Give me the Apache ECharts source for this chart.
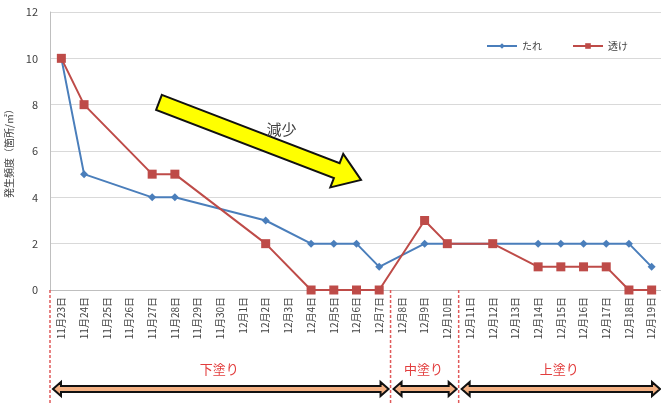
<!DOCTYPE html>
<html>
<head>
<meta charset="utf-8">
<script src="https://cdn.jsdelivr.net/npm/echarts@6/dist/echarts.min.js"></script>
<style>
  html, body { margin: 0; padding: 0; background: #fff; }
  #chart { width: 661px; height: 403px; }
</style>
</head>
<body>
<div id="chart"></div>
<script>
var days = ['11月23日','11月24日','11月25日','11月26日','11月27日','11月28日','11月29日','11月30日',
  '12月1日','12月2日','12月3日','12月4日','12月5日','12月6日','12月7日','12月8日','12月9日','12月10日',
  '12月11日','12月12日','12月13日','12月14日','12月15日','12月16日','12月17日','12月18日','12月19日'];
var tare = [10,5,null,null,4,4,null,null,null,3,null,2,2,2,1,null,2,2,null,2,null,2,2,2,2,2,1];
var suke = [10,8,null,null,5,5,null,null,null,2,null,0,0,0,0,null,3,2,null,2,null,1,1,1,1,0,0];
// phase name, first day index, last day index
var phases = [['下塗り',0,14],['中塗り',15,17],['上塗り',18,26]];

var chart = echarts.init(document.getElementById('chart'));
var font = 'Noto Sans CJK JP';

chart.setOption({
  animation: false,
  textStyle: { fontFamily: font },
  grid: { left: 50, top: 12, width: 613, height: 278, outerBoundsMode: 'none', containLabel: false },
  legend: {
    right: 28, top: 36, itemGap: 30, itemWidth: 30, itemHeight: 7,
    textStyle: { fontSize: 10, color: '#404040' },
    data: ['たれ','透け']
  },
  xAxis: {
    type: 'category',
    data: days,
    axisLine: { lineStyle: { color: '#bfbfbf' } },
    axisTick: { length: 4, lineStyle: { color: '#bfbfbf' } },
    axisLabel: { interval: 0, rotate: 90, fontSize: 10, color: '#404040', margin: 7 }
  },
  yAxis: {
    type: 'value', min: 0, max: 12, interval: 2,
    name: '発生頻度（箇所/㎡）', nameLocation: 'middle', nameRotate: 90, nameGap: 36,
    nameTextStyle: { fontSize: 10, color: '#404040' },
    axisLine: { show: true, lineStyle: { color: '#bfbfbf' } },
    axisTick: { show: false },
    axisLabel: { fontSize: 11, color: '#404040', margin: 12 },
    splitLine: { lineStyle: { color: '#d9d9d9' } }
  },
  series: [
    {
      name: 'たれ', type: 'line', data: tare, connectNulls: true,
      symbol: 'diamond', symbolSize: 8,
      itemStyle: { color: '#4a7ebb' }, lineStyle: { color: '#4a7ebb', width: 2 }
    },
    {
      name: '透け', type: 'line', data: suke, connectNulls: true,
      symbol: 'rect', symbolSize: 9,
      itemStyle: { color: '#be4b48' }, lineStyle: { color: '#be4b48', width: 2 }
    }
  ]
});

// annotations placed from axis coordinates
var x0 = chart.convertToPixel({ xAxisIndex: 0 }, 0);
var band = (chart.convertToPixel({ xAxisIndex: 0 }, days.length - 1) - x0) / (days.length - 1);
function px(i) { return x0 + i * band; }
function py(v) { return chart.convertToPixel({ yAxisIndex: 0 }, v); }
var axisY = py(0);

function doubleArrow(x1, x2, y) {
  var s = 3, H = 7, h = 8;
  return [[x1,y],[x1+h,y-H],[x1+h,y-s],[x2-h,y-s],[x2-h,y-H],[x2,y],[x2-h,y+H],[x2-h,y+s],[x1+h,y+s],[x1+h,y+H]];
}

function bigArrow(a, b) {
  var dx = b[0] - a[0], dy = b[1] - a[1];
  var len = Math.sqrt(dx * dx + dy * dy), ux = dx / len, uy = dy / len, nx = -uy, ny = ux;
  var s = 8, H = 18, hl = 26;
  var pts = [[0,-s],[len-hl,-s],[len-hl,-H],[len,0],[len-hl,H],[len-hl,s],[0,s]];
  return pts.map(function (p) { return [a[0] + ux * p[0] + nx * p[1], a[1] + uy * p[0] + ny * p[1]]; });
}

var g = [];
var bounds = [px(-0.5), px(14.5), px(17.5)];
bounds.forEach(function (x) {
  g.push({ type: 'line', shape: { x1: x, y1: axisY, x2: x, y2: 403 },
    style: { stroke: '#e05a5a', lineWidth: 1.5, lineDash: [3, 2] }, z: 10 });
});
var arrowY = 389;
phases.forEach(function (p, k) {
  var xa = px(p[1] - 0.5) + 3;
  var xb = k === phases.length - 1 ? 660 : px(p[2] + 0.5) - 2;
  g.push({ type: 'polygon', shape: { points: doubleArrow(xa, xb, arrowY) },
    style: { fill: '#f4b183', stroke: '#111', lineWidth: 2 }, z: 10 });
  g.push({ type: 'text', x: (px(p[1] - 0.5) + Math.min(xb, px(p[2] + 0.5))) / 2, y: 369,
    style: { text: p[0], fill: '#e23c3c', fontSize: 13, fontFamily: font, align: 'center', verticalAlign: 'middle' }, z: 10 });
});
var tail = [px(4.3), py(8.1)], tip = [px(13.2), py(4.75)];
g.push({ type: 'polygon', shape: { points: bigArrow(tail, tip) },
  style: { fill: '#ffff00', stroke: '#111', lineWidth: 2 }, z: 10 });
g.push({ type: 'text', x: px(9.7), y: py(6.95),
  style: { text: '減少', fill: '#404040', fontSize: 15, fontFamily: font, align: 'center', verticalAlign: 'middle' }, z: 10 });

chart.setOption({ graphic: g });
</script>
</body>
</html>
